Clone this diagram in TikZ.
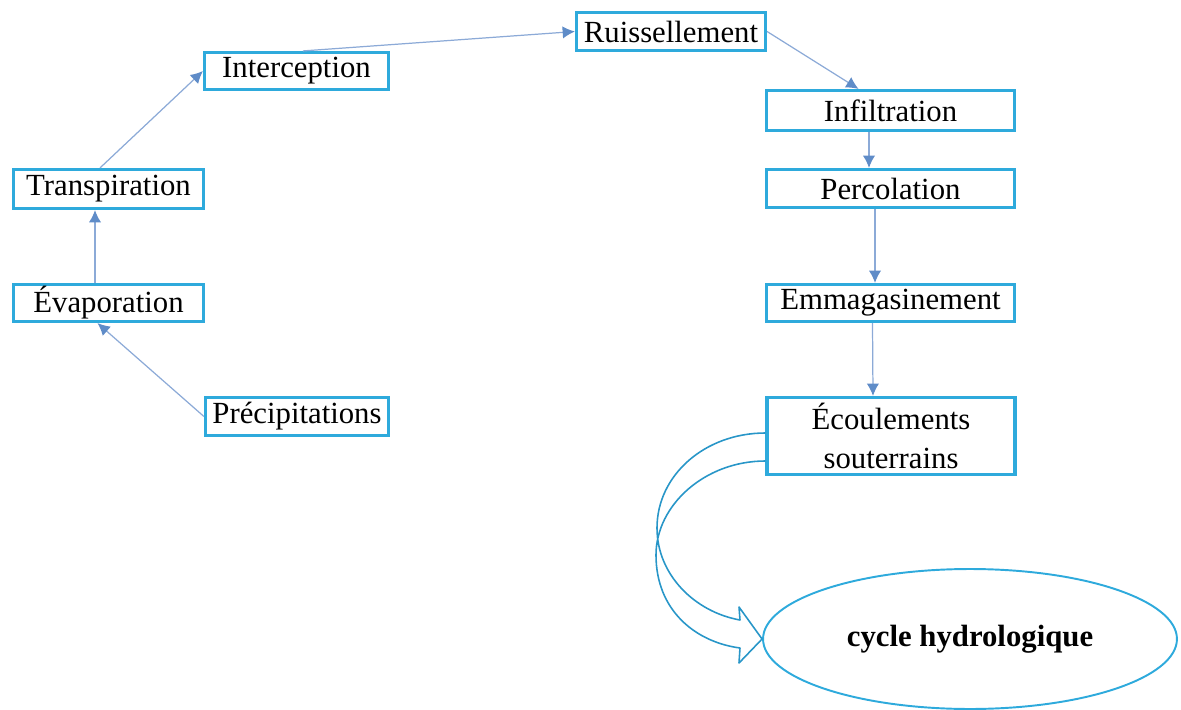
\documentclass[tikz,border=0pt]{standalone}
\usepackage{fontspec}
\setmainfont{Liberation Serif}
\usepackage[svgnames]{xcolor}
\usetikzlibrary{positioning, arrows.meta, shapes.geometric}

\definecolor{boxblue}{RGB}{46,170,220}
\definecolor{lineblue}{RGB}{140,170,215}
\definecolor{tipblue}{RGB}{95,140,200}
\definecolor{bendblue}{RGB}{40,150,200}

\begin{document}
\begin{tikzpicture}[x=0.02cm, y=-0.02cm,
        box/.style={draw=boxblue, line width=1.8pt, fill=white, inner sep=0pt,
            minimum height=0.76cm, font=\fontsize{17.5}{22}\selectfont, align=center},
        flow/.style={draw=lineblue, line width=0.7pt,
            -{Latex[length=7pt, width=7pt, color=tipblue]}},
        bigarrow/.style={draw=bendblue, line width=0.9pt, line join=round}]
    \useasboundingbox (0,0) rectangle (1181,710);

    % left side
    \node[box, minimum width=3.66cm] (prec) at (297,416.5) {Précipitations};
    \node[box, minimum width=3.8cm, minimum height=0.74cm] (evap) at (108.5,303) {Évaporation};
    \node[box, minimum width=3.8cm, minimum height=0.78cm] (trans) at (108.5,189) {Transpiration};
    \node[box, minimum width=3.68cm, minimum height=0.74cm] (inter) at (296.5,71) {Interception};
    \node[box, minimum width=3.78cm] (ruis) at (671,31.5) {Ruissellement};

    % right side
    \node[box, minimum width=4.96cm, minimum height=0.8cm] (infil) at (890.5,110.5) {Infiltration};
    \node[box, minimum width=4.96cm] (perc) at (890.5,188.5) {Percolation};
    \node[box, minimum width=4.96cm, minimum height=0.74cm] (emma) at (890.5,303) {Emmagasinement};
    \node[box, minimum width=4.96cm, minimum height=1.54cm] (ecoul) at (891,436) {Écoulements\\souterrains};

    \node[ellipse, draw=boxblue, line width=1.1pt, minimum width=8.28cm, minimum height=2.8cm,
        font=\fontsize{17.5}{22}\selectfont\bfseries] (cycle) at (970,639) {cycle hydrologique};

    % arrows
    \draw[flow] (prec.west) -- ([xshift=-0.22cm]evap.south);
    \draw[flow] ([xshift=-0.27cm]evap.north) -- ([xshift=-0.27cm]trans.south);
    \draw[flow] ([xshift=-0.17cm]trans.north) -- (inter.west);
    \draw[flow] ([xshift=0.13cm]inter.north) -- (ruis.west);
    \draw[flow] (ruis.east) -- ([xshift=-0.64cm]infil.north);
    \draw[flow] ([xshift=-0.43cm]infil.south) -- ([xshift=-0.43cm]perc.north);
    \draw[flow] ([xshift=-0.31cm]perc.south) -- ([xshift=-0.31cm]emma.north);
    \draw[flow] ([xshift=-0.36cm]emma.south) -- ([xshift=-0.36cm]ecoul.north);

    % curved arrow to the cycle
    \coordinate (c1) at ([yshift=0.06cm]ecoul.west);
    \coordinate (c2) at ([yshift=-0.5cm]ecoul.west);
    \coordinate (tip) at (cycle.west);
    \draw[bigarrow] (c1) .. controls (705,433) and (657,475) .. (657,528)
        .. controls (657,575) and (695,612) .. (740,620)
        -- (739,607) -- (tip) -- (739,663) -- (740,648)
        .. controls (695,642) and (656,610) .. (656,555)
        .. controls (656,505) and (705,461) .. (c2);
\end{tikzpicture}
\end{document}
